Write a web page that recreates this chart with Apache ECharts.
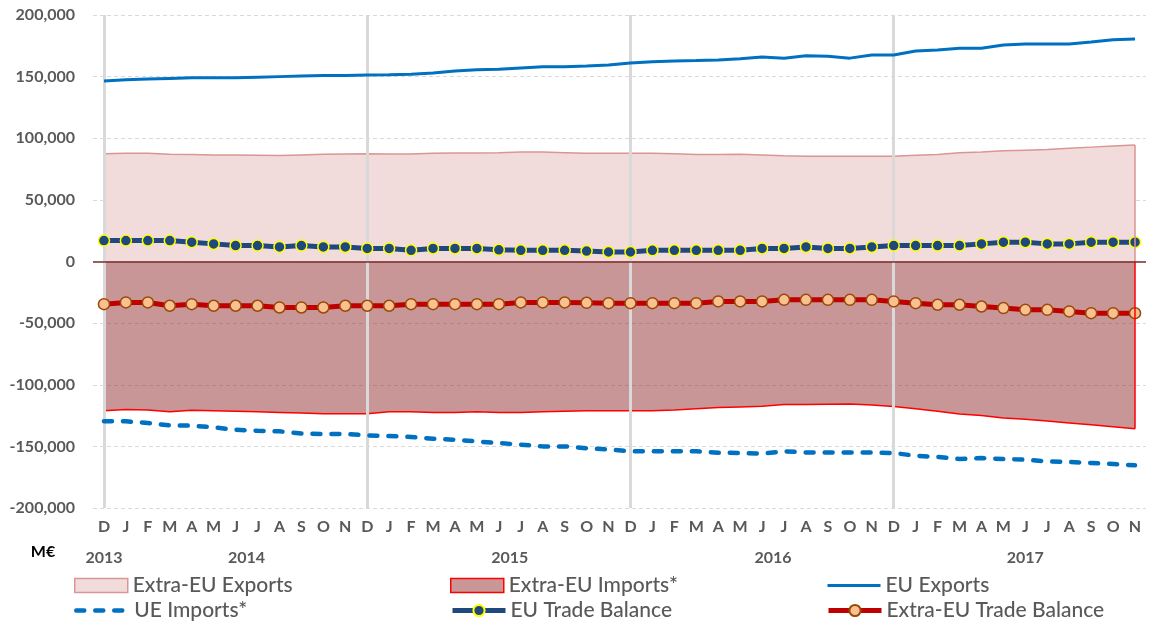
<!DOCTYPE html>
<html>
<head>
<meta charset="utf-8">
<title>EU trade</title>
<script src="https://cdn.jsdelivr.net/npm/echarts@6.0.0/dist/echarts.min.js"></script>
<style>
  html, body { margin: 0; padding: 0; background: #fff; }
  #chart { width: 1149px; height: 623px; }
</style>
</head>
<body>
<div id="chart"></div>
<script>
// months Dec 2013 .. Nov 2017
const months = [
  'D', 'J', 'F', 'M', 'A', 'M', 'J', 'J', 'A', 'S', 'O', 'N',
  'D', 'J', 'F', 'M', 'A', 'M', 'J', 'J', 'A', 'S', 'O', 'N',
  'D', 'J', 'F', 'M', 'A', 'M', 'J', 'J', 'A', 'S', 'O', 'N',
  'D', 'J', 'F', 'M', 'A', 'M', 'J', 'J', 'A', 'S', 'O', 'N'
]

// year groups under the month labels (first / last month index)
const years = ['2013', '2014', '2015', '2016', '2017']
const yearFirst = [0, 1, 13, 25, 37]
const yearLast = [0, 12, 24, 36, 47]

// december positions, drawn as light vertical lines
const decIndex = [0, 12, 24, 36]

const extraExports = [
  87500, 87800, 87800, 87000, 86800, 86500, 86500, 86300, 86000, 86500, 87000, 87300,
  87500, 87200, 87200, 87800, 88000, 88000, 88300, 88800, 88800, 88300, 87800, 87800,
  87800, 87800, 87500, 86800, 86800, 87000, 86500, 85800, 85300, 85300, 85300, 85300,
  85300, 86300, 86800, 88300, 88800, 89800, 90300, 90800, 91800, 92800, 93800, 94500
]

const extraImports = [
  -121000, -120000, -120500, -122000, -120700, -121000, -121500, -122000, -122500, -123000, -123500, -123500,
  -123500, -122000, -122000, -122500, -122500, -122000, -122500, -122500, -122000, -121500, -121000, -121000,
  -121000, -121000, -120500, -119500, -118500, -118000, -117500, -116000, -116000, -115800, -115700, -116500,
  -117600, -119500, -121500, -123800, -125000, -127000, -128000, -129500, -131000, -132500, -134000, -135700
]

const euExports = [
  146500, 147500, 148000, 148500, 149000, 149000, 149000, 149500, 150000, 150500, 151000, 151000,
  151300, 151500, 152000, 153000, 154500, 155500, 156000, 157000, 158000, 158000, 158600, 159500,
  161000, 162000, 162700, 163000, 163500, 164500, 166000, 165000, 167000, 166500, 165000, 167500,
  167500, 170800, 171600, 173000, 173000, 175600, 176500, 176500, 176500, 178000, 180000, 180500
]

const euImports = [
  -129700, -129700, -131000, -133000, -133200, -134600, -136500, -137300, -137800, -139500, -140000, -140000,
  -141100, -141600, -142400, -143800, -144600, -146000, -147300, -148600, -150000, -150000, -151500, -152500,
  -154000, -154000, -154000, -154000, -155100, -155400, -155900, -154000, -154900, -154900, -154900, -154900,
  -155400, -157600, -158600, -160300, -159500, -160300, -160800, -162200, -162700, -163500, -164300, -165400
]

const euBalance = [
  17000, 17000, 17000, 17000, 15700, 14300, 12900, 12900, 11800, 12900, 11800, 11800,
  10600, 10600, 9100, 10600, 10600, 10600, 9500, 9100, 9100, 9100, 8500, 7700,
  7700, 9100, 9100, 9100, 9100, 9100, 10600, 10600, 11800, 10600, 10600, 11800,
  12900, 12900, 12900, 12900, 14300, 15700, 15700, 14300, 14300, 15700, 15700, 15700
]

const extraBalance = [
  -34600, -33200, -33200, -35900, -34600, -35900, -35900, -35900, -37300, -37300, -37300, -35900,
  -35900, -35900, -34600, -34600, -34600, -34600, -34600, -33200, -33200, -33200, -33500, -33800,
  -33800, -33800, -33800, -33800, -32400, -32400, -32400, -31100, -31100, -31100, -31100, -31100,
  -32400, -33800, -35100, -35100, -36500, -37800, -39200, -39200, -40500, -41900, -41900, -41900
]

const FONT = 'Lato, "Open Sans", sans-serif'
const GREY = '#595959'
const last = months.length - 1
const noSymbol = { color: 'rgba(0,0,0,0)', borderColor: 'rgba(0,0,0,0)', borderWidth: 0 }

const chart = echarts.init(document.getElementById('chart'), null, { renderer: 'canvas' })

// one legend per entry so the 3x2 layout is exact
function legendAt(left, top, item) {
  return {
    orient: 'horizontal',
    left: left,
    top: top,
    itemWidth: 53,
    itemHeight: 14,
    padding: 0,
    selectedMode: false,
    lineStyle: { width: 'inherit' },
    textStyle: { fontFamily: FONT, fontSize: 21, fontWeight: 500, color: GREY },
    data: [item]
  }
}

const option = {
  animation: false,
  textStyle: { fontFamily: FONT },
  grid: { left: 93, right: 3, top: 15, bottom: 115 },
  legend: [
    legendAt(74, 575, { name: 'Extra-EU Exports', icon: 'rect', itemStyle: { color: '#F2DCDB', borderColor: '#D99694', borderWidth: 1.5 } }),
    legendAt(74, 600, { name: 'UE Imports*', itemStyle: noSymbol }),
    legendAt(450, 575, { name: 'Extra-EU Imports*', icon: 'rect', itemStyle: { color: '#C99797', borderColor: '#FF0000', borderWidth: 1.5 } }),
    legendAt(450, 600, { name: 'EU Trade Balance' }),
    legendAt(826, 575, { name: 'EU Exports', itemStyle: noSymbol }),
    legendAt(826, 600, { name: 'Extra-EU Trade Balance' })
  ],
  xAxis: {
    type: 'category',
    data: months,
    boundaryGap: true,
    axisLine: { show: false },
    axisTick: { show: false },
    splitLine: { show: false },
    axisLabel: {
      interval: 0,
      margin: 11,
      fontFamily: FONT,
      fontSize: 16,
      fontWeight: 'bold',
      color: GREY
    }
  },
  yAxis: {
    type: 'value',
    min: -200000,
    max: 200000,
    interval: 50000,
    axisLine: { show: false },
    axisTick: { show: false },
    splitLine: { lineStyle: { color: '#D9D9D9', width: 1, type: [4, 3] } },
    axisLabel: {
      margin: 18,
      fontFamily: FONT,
      fontSize: 16,
      fontWeight: 'bold',
      color: GREY,
      formatter: v => v.toLocaleString('en-US')
    }
  },
  series: [
    {
      name: 'Extra-EU Exports',
      type: 'line',
      data: extraExports,
      symbol: 'none',
      z: 1,
      itemStyle: { color: '#F2DCDB' },
      lineStyle: { color: '#D99694', width: 1.5 },
      areaStyle: { color: '#F2DCDB', opacity: 1 },
      markLine: {
        silent: true,
        symbol: 'none',
        label: { show: false },
        lineStyle: { color: '#D99694', width: 1.5, type: 'solid' },
        data: [[{ coord: [last, 0] }, { coord: [last, extraExports[last]] }]]
      }
    },
    {
      name: 'Extra-EU Imports*',
      type: 'line',
      data: extraImports,
      symbol: 'none',
      z: 1,
      itemStyle: { color: '#C99797' },
      lineStyle: { color: '#FF0000', width: 1.5 },
      areaStyle: { color: 'rgba(146,46,46,0.5)', opacity: 1 },
      markLine: {
        silent: true,
        symbol: 'none',
        label: { show: false },
        data: [
          [{ coord: [last, 0] }, { coord: [last, extraImports[last]], lineStyle: { color: '#FF0000', width: 1.5, type: 'solid' } }],
          { yAxis: 0, lineStyle: { color: '#7B2C2C', width: 1.5, type: 'solid' } }
        ]
      }
    },
    {
      name: 'EU Exports',
      type: 'line',
      data: euExports,
      symbol: 'none',
      z: 2,
      itemStyle: { color: '#0070C0' },
      lineStyle: { color: '#0070C0', width: 3 },
      // light vertical lines at each December
      markLine: {
        silent: true,
        z: 1.5,
        symbol: 'none',
        label: { show: false },
        lineStyle: { color: '#D9D9D9', width: 3, type: 'solid' },
        data: decIndex.map(i => ({ xAxis: i }))
      }
    },
    {
      name: 'UE Imports*',
      type: 'line',
      data: euImports,
      symbol: 'none',
      z: 2,
      itemStyle: { color: '#0070C0' },
      lineStyle: { color: '#0070C0', width: 4.5, type: [8, 11], cap: 'round' }
    },
    {
      name: 'EU Trade Balance',
      type: 'line',
      data: euBalance,
      symbol: 'circle',
      symbolSize: 11,
      z: 3,
      itemStyle: { color: '#1F497D', borderColor: '#FFFF00', borderWidth: 1.5 },
      lineStyle: { color: '#1F497D', width: 5 }
    },
    {
      name: 'Extra-EU Trade Balance',
      type: 'line',
      data: extraBalance,
      symbol: 'circle',
      symbolSize: 11,
      z: 3,
      itemStyle: { color: '#FAC090', borderColor: '#984807', borderWidth: 1.5 },
      lineStyle: { color: '#C00000', width: 5 }
    }
  ]
}

chart.setOption(option)

// year labels centred under their months, plus the unit label
const graphics = years.map((y, k) => {
  const x0 = chart.convertToPixel({ xAxisIndex: 0 }, yearFirst[k])
  const x1 = chart.convertToPixel({ xAxisIndex: 0 }, yearLast[k])
  return {
    type: 'text',
    x: (x0 + x1) / 2,
    y: 558,
    style: {
      text: y,
      fill: GREY,
      font: 'bold 16px ' + FONT,
      textAlign: 'center',
      textVerticalAlign: 'middle'
    }
  }
})
graphics.push({
  type: 'text',
  x: 43,
  y: 552,
  style: {
    text: 'M€',
    fill: '#000',
    font: 'bold 16px ' + FONT,
    textAlign: 'center',
    textVerticalAlign: 'middle'
  }
})
chart.setOption({ graphic: graphics })
</script>
</body>
</html>
